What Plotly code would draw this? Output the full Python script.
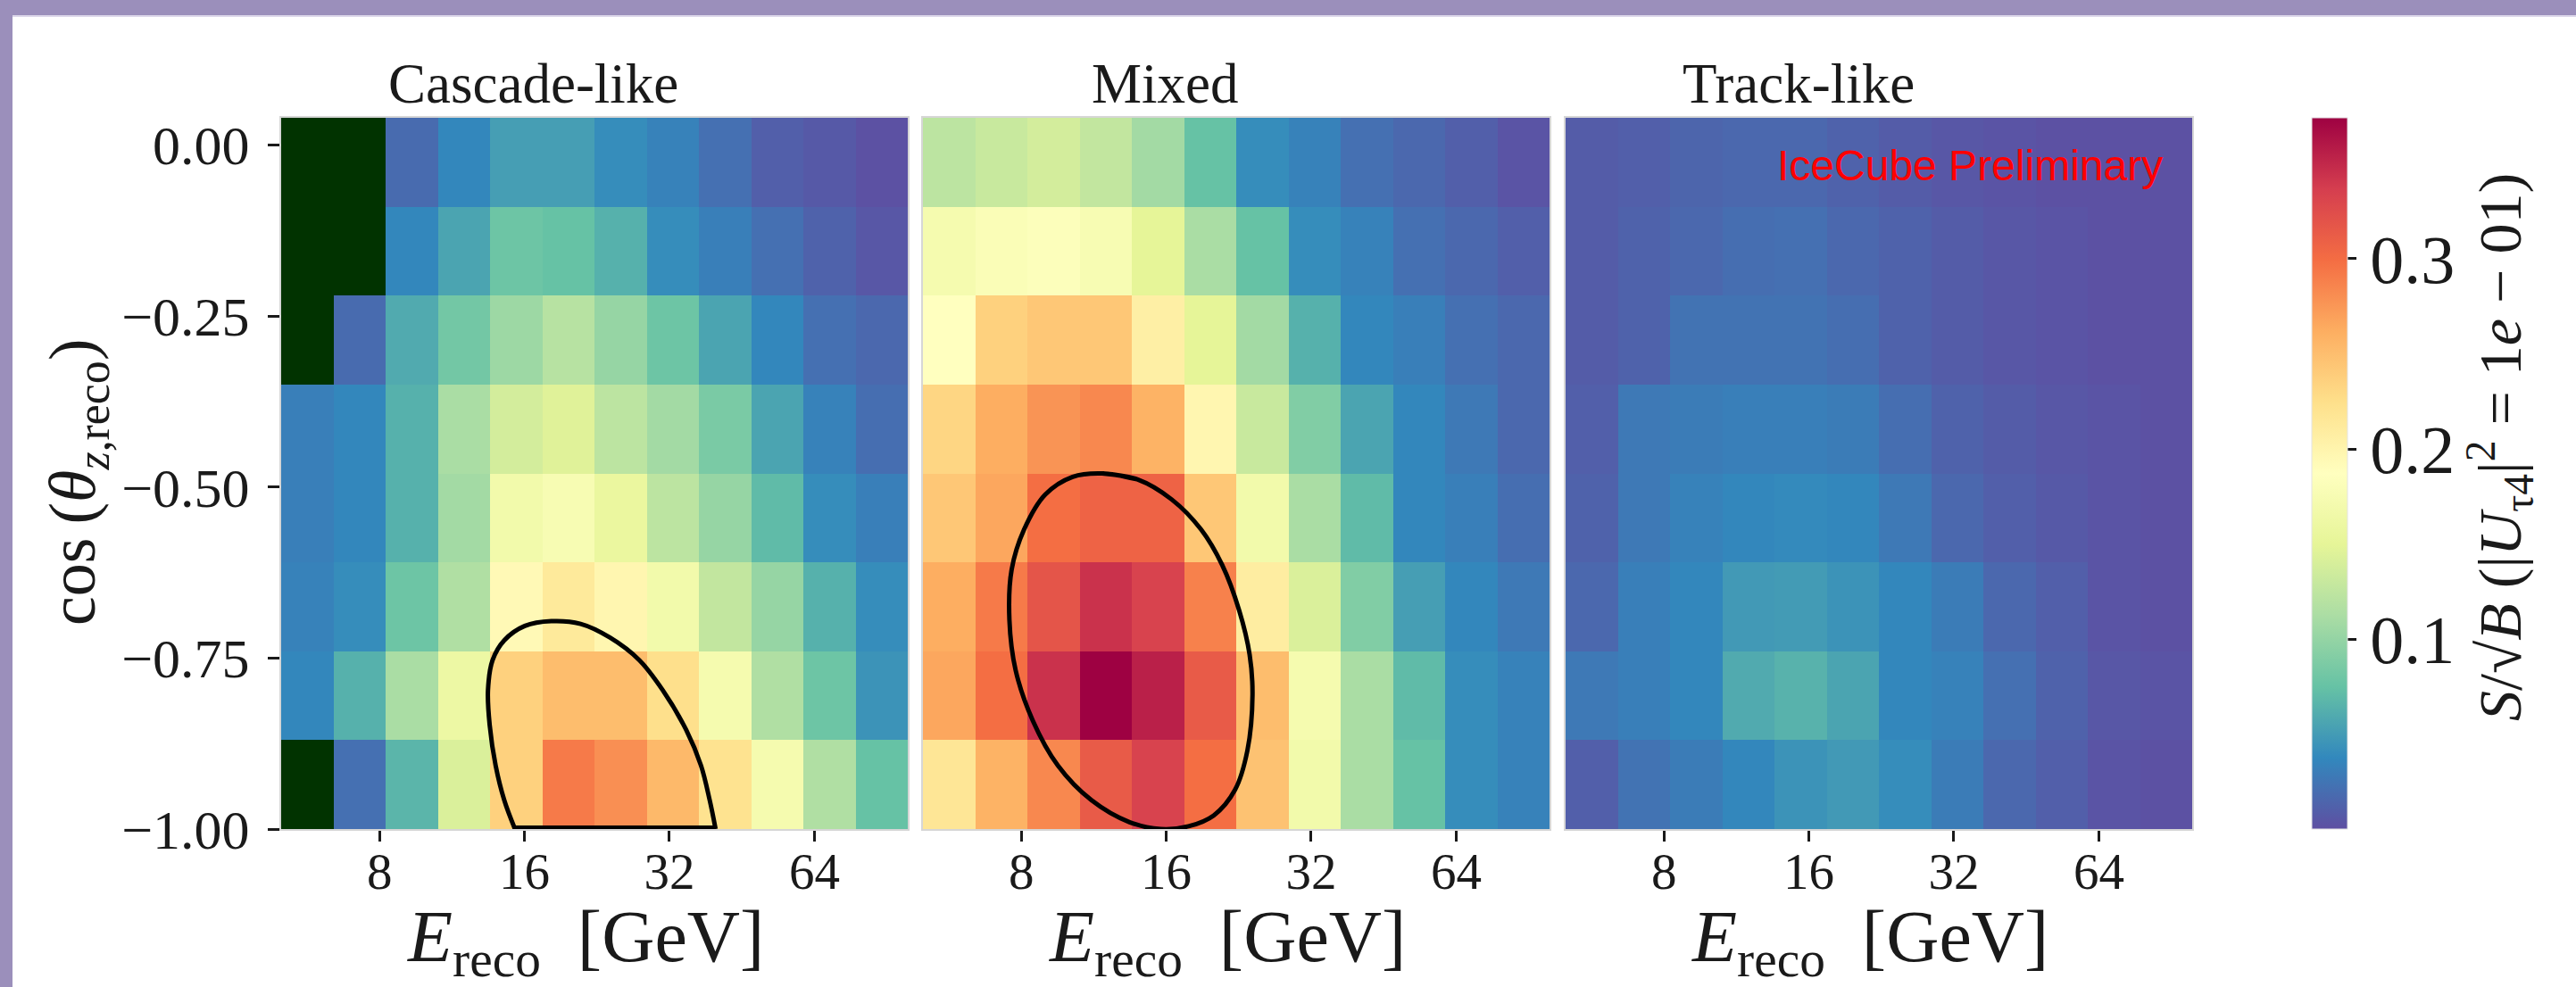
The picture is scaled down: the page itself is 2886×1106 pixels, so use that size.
import math
import plotly.graph_objects as go

# ---------------- data ----------------
E_EDGES = [5.0, 6.418, 8.238, 10.574, 13.572, 17.421, 22.361, 28.702, 36.841,
           47.288, 60.698, 77.911, 100.0]
COS_EDGES = [-1.0, -0.87, -0.74, -0.61, -0.48, -0.35, -0.22, -0.09, 0.04]

PANELS = ["Cascade-like", "Mixed", "Track-like"]

# rows listed from top (cos ~ 0) to bottom (cos = -1); None = empty bin
CASCADE = [
    [None, None, 0.019, 0.037, 0.052, 0.052, 0.041, 0.034, 0.022, 0.011, 0.007, 0.002],
    [None, None, 0.037, 0.056, 0.079, 0.075, 0.064, 0.041, 0.032, 0.022, 0.013, 0.006],
    [None, 0.019, 0.060, 0.082, 0.105, 0.120, 0.101, 0.079, 0.056, 0.037, 0.022, 0.017],
    [0.032, 0.037, 0.064, 0.112, 0.138, 0.146, 0.123, 0.108, 0.086, 0.056, 0.034, 0.021],
    [0.032, 0.037, 0.064, 0.108, 0.168, 0.176, 0.157, 0.123, 0.101, 0.071, 0.041, 0.032],
    [0.034, 0.041, 0.079, 0.116, 0.194, 0.213, 0.198, 0.168, 0.127, 0.101, 0.064, 0.041],
    [0.037, 0.064, 0.112, 0.161, 0.236, 0.251, 0.251, 0.224, 0.172, 0.116, 0.079, 0.045],
    [None, 0.022, 0.067, 0.142, 0.236, 0.292, 0.280, 0.254, 0.221, 0.172, 0.116, 0.075],
]
MIXED = [
    [0.123, 0.131, 0.138, 0.127, 0.108, 0.075, 0.041, 0.034, 0.022, 0.017, 0.011, 0.004],
    [0.172, 0.180, 0.183, 0.176, 0.150, 0.112, 0.075, 0.041, 0.034, 0.022, 0.017, 0.011],
    [0.187, 0.236, 0.243, 0.243, 0.206, 0.150, 0.108, 0.064, 0.037, 0.032, 0.022, 0.017],
    [0.232, 0.262, 0.277, 0.284, 0.258, 0.198, 0.131, 0.090, 0.056, 0.037, 0.028, 0.017],
    [0.243, 0.266, 0.299, 0.307, 0.307, 0.243, 0.168, 0.112, 0.071, 0.037, 0.032, 0.021],
    [0.262, 0.292, 0.318, 0.344, 0.333, 0.288, 0.209, 0.142, 0.090, 0.052, 0.037, 0.028],
    [0.266, 0.299, 0.344, 0.374, 0.355, 0.314, 0.251, 0.172, 0.112, 0.071, 0.041, 0.034],
    [0.217, 0.258, 0.284, 0.314, 0.333, 0.299, 0.247, 0.168, 0.112, 0.075, 0.041, 0.034],
]
TRACK = [
    [0.009, 0.011, 0.015, 0.017, 0.017, 0.013, 0.009, 0.006, 0.004, 0.002, 0.002, 0.002],
    [0.009, 0.013, 0.017, 0.021, 0.022, 0.017, 0.013, 0.009, 0.006, 0.004, 0.002, 0.002],
    [0.009, 0.013, 0.024, 0.024, 0.024, 0.021, 0.013, 0.009, 0.006, 0.004, 0.002, 0.002],
    [0.011, 0.028, 0.030, 0.032, 0.032, 0.030, 0.021, 0.013, 0.009, 0.006, 0.004, 0.002],
    [0.013, 0.028, 0.034, 0.037, 0.039, 0.037, 0.028, 0.017, 0.011, 0.007, 0.004, 0.002],
    [0.017, 0.032, 0.037, 0.049, 0.050, 0.045, 0.037, 0.030, 0.017, 0.011, 0.004, 0.002],
    [0.028, 0.032, 0.037, 0.060, 0.065, 0.056, 0.037, 0.034, 0.022, 0.013, 0.006, 0.004],
    [0.011, 0.024, 0.030, 0.037, 0.045, 0.049, 0.041, 0.030, 0.017, 0.011, 0.004, 0.002],
]

ZMIN, ZMAX = 0.0005, 0.374
CBAR_TICKS = [0.1, 0.2, 0.3]
X_TICKS = [8, 16, 32, 64]
Y_TICKS = [0.0, -0.25, -0.5, -0.75, -1.0]
Y_TICK_TEXT = ["0.00", "\u22120.25", "\u22120.50", "\u22120.75", "\u22121.00"]

# sensitivity contours
CASCADE_CONTOUR_E = [15.29, 14.53, 13.94, 13.55, 13.44, 13.74, 14.53, 16.03, 18.19,
                     20.93, 24.08, 27.71, 30.99, 34.67, 37.21, 38.80, 39.90]
CASCADE_CONTOUR_COS = [-1.0, -0.958, -0.907, -0.848, -0.797, -0.753, -0.724, -0.703, -0.696,
                       -0.700, -0.720, -0.753, -0.797, -0.855, -0.907, -0.958, -1.0]
MIXED_CONTOUR_E = [11.78, 13.97, 16.42, 18.90, 20.91, 22.67, 23.84, 24.17, 23.59, 22.22,
                   20.09, 17.80, 15.60, 13.43, 11.20, 9.53, 8.45, 7.79, 7.56, 7.64,
                   8.11, 8.97, 10.23]
MIXED_CONTOUR_COS = [-0.480, -0.489, -0.518, -0.562, -0.614, -0.680, -0.745, -0.804, -0.885,
                     -0.943, -0.980, -0.996, -1.0, -0.990, -0.958, -0.907, -0.841, -0.768,
                     -0.694, -0.621, -0.562, -0.511, -0.485]

# ---------------- layout helpers ----------------
W, H = 2886, 1106
SERIF = "Liberation Serif, Times New Roman, serif"
SANS = "Liberation Sans, Arial, sans-serif"
INK = "#1a1a1a"


def px(x):
    return x / W


def py(y):
    return 1 - y / H


X_DOMAINS = [(315, 1017), (1034, 1736), (1754, 2456)]
Y_TOP, Y_BOT = 132, 929

fig = go.Figure()

for i, z in enumerate([CASCADE, MIXED, TRACK]):
    xa = "x" if i == 0 else f"x{i + 1}"
    ya = "y" if i == 0 else f"y{i + 1}"
    rows = z[::-1]  # bottom -> top to match COS_EDGES
    fig.add_trace(go.Heatmap(
        x=E_EDGES, y=COS_EDGES, z=rows, coloraxis="coloraxis",
        xaxis=xa, yaxis=ya, hoverongaps=False,
    ))
    mask = [[1 if v is None else None for v in r] for r in rows]
    if any(v is not None for r in mask for v in r):
        fig.add_trace(go.Heatmap(
            x=E_EDGES, y=COS_EDGES, z=mask, showscale=False,
            colorscale=[[0, "#013300"], [1, "#013300"]],
            xaxis=xa, yaxis=ya, hoverongaps=False,
        ))

# contours
LINE_W = 5
fig.add_trace(go.Scatter(
    x=CASCADE_CONTOUR_E, y=CASCADE_CONTOUR_COS, mode="lines",
    line=dict(color="black", width=LINE_W, shape="spline", smoothing=1.0),
    xaxis="x", yaxis="y", showlegend=False, hoverinfo="skip"))
fig.add_trace(go.Scatter(
    x=[CASCADE_CONTOUR_E[0], CASCADE_CONTOUR_E[-1]],
    y=[CASCADE_CONTOUR_COS[0], CASCADE_CONTOUR_COS[-1]], mode="lines",
    line=dict(color="black", width=8),
    xaxis="x", yaxis="y", showlegend=False, hoverinfo="skip"))
fig.add_trace(go.Scatter(
    x=MIXED_CONTOUR_E + MIXED_CONTOUR_E[:2], y=MIXED_CONTOUR_COS + MIXED_CONTOUR_COS[:2],
    mode="lines", line=dict(color="black", width=LINE_W, shape="spline", smoothing=1.0),
    xaxis="x2", yaxis="y2", showlegend=False, hoverinfo="skip"))

layout = dict(
    width=W, height=H,
    margin=dict(l=0, r=0, t=0, b=0, pad=0),
    paper_bgcolor="white", plot_bgcolor="white",
    template="none", showlegend=False,
    font=dict(family=SERIF, color=INK),
    coloraxis=dict(
        colorscale="Spectral_r", cmin=ZMIN, cmax=ZMAX,
        colorbar=dict(
            x=px(2590), xanchor="left", xpad=0,
            y=py(Y_BOT), yanchor="bottom", ypad=0,
            len=Y_BOT - Y_TOP, lenmode="pixels",
            thickness=40, thicknessmode="pixels",
            tickvals=CBAR_TICKS, ticktext=[f"{v:.1f}" for v in CBAR_TICKS],
            ticks="outside", ticklen=10, tickwidth=3, tickcolor=INK,
            tickfont=dict(family=SERIF, size=76, color=INK),
            outlinewidth=1, outlinecolor="#e4e4e4",
        ),
    ),
)

for i, (x0, x1) in enumerate(X_DOMAINS):
    sfx = "" if i == 0 else str(i + 1)
    layout[f"xaxis{sfx}"] = dict(
        type="log", range=[math.log10(E_EDGES[0]), math.log10(E_EDGES[-1])],
        domain=[px(x0), px(x1)], anchor=f"y{sfx}",
        tickvals=X_TICKS, ticktext=[str(t) for t in X_TICKS],
        ticks="outside", ticklen=12, tickwidth=3, tickcolor=INK,
        tickfont=dict(family=SERIF, size=57, color=INK), ticklabelstandoff=-15,
        showline=True, linecolor="#d6d6d6", linewidth=2, mirror=True,
        showgrid=False, zeroline=False, automargin=False, fixedrange=True,
    )
    layout[f"yaxis{sfx}"] = dict(
        range=[COS_EDGES[0], COS_EDGES[-1]],
        domain=[py(Y_BOT), py(Y_TOP)], anchor=f"x{sfx}",
        tickvals=Y_TICKS, ticktext=Y_TICK_TEXT,
        ticks="outside" if i == 0 else "", ticklen=13, tickwidth=3, tickcolor=INK,
        showticklabels=(i == 0),
        tickfont=dict(family=SERIF, size=62, color=INK), ticklabelstandoff=8,
        showline=True, linecolor="#d6d6d6", linewidth=2, mirror=True,
        showgrid=False, zeroline=False, automargin=False, fixedrange=True,
    )

annotations = []
for name, cx in zip(PANELS, [597, 1305, 2015]):
    annotations.append(dict(text=name, x=px(cx), y=py(94), xref="paper", yref="paper",
                            showarrow=False, xanchor="center", yanchor="middle",
                            font=dict(family=SERIF, size=63, color=INK)))
for (x0, x1) in X_DOMAINS:
    annotations.append(dict(text="<i>E</i><sub>reco</sub>\u2002[GeV]",
                            x=px((x0 + x1) / 2 - 10), y=py(1055), xref="paper", yref="paper",
                            showarrow=False, xanchor="center", yanchor="middle",
                            font=dict(family=SERIF, size=82, color=INK)))
annotations.append(dict(text="cos\u2009(<i>\u03b8</i><sub><i>z</i>,reco</sub>)",
                        x=px(86), y=py(541), xref="paper", yref="paper", textangle=-90,
                        showarrow=False, xanchor="center", yanchor="middle",
                        font=dict(family=SERIF, size=74, color=INK)))
annotations.append(dict(
    text="<i>S</i>/\u221a<i>B</i> (|<i>U</i><sub>\u03c44</sub>|<sup>2</sup> = 1<i>e</i> \u2212 01)",
    x=px(2800), y=py(501), xref="paper", yref="paper", textangle=-90,
    showarrow=False, xanchor="center", yanchor="middle",
    font=dict(family=SERIF, size=68, color=INK)))
annotations.append(dict(text="IceCube Preliminary", x=px(2425), y=py(186),
                        xref="paper", yref="paper", showarrow=False,
                        xanchor="right", yanchor="middle",
                        font=dict(family=SANS, size=48, color="#ff0000")))
layout["annotations"] = annotations

FRAME = "#9b8fbb"
layout["shapes"] = [
    dict(type="rect", xref="paper", yref="paper", x0=0, x1=1, y0=py(17), y1=1,
         fillcolor=FRAME, line=dict(width=0), layer="above"),
    dict(type="rect", xref="paper", yref="paper", x0=0, x1=1, y0=py(19), y1=py(17),
         fillcolor="#dcd7ea", line=dict(width=0), layer="above"),
    dict(type="rect", xref="paper", yref="paper", x0=0, x1=px(14), y0=0, y1=1,
         fillcolor=FRAME, line=dict(width=0), layer="above"),
]

fig.update_layout(**layout)
fig.write_html(
    "out.html",
    config={"displayModeBar": False},
    post_script=("document.body.style.margin='0';"
                 "document.body.style.overflow='hidden';"
                 "document.documentElement.style.overflow='hidden';"),
)
